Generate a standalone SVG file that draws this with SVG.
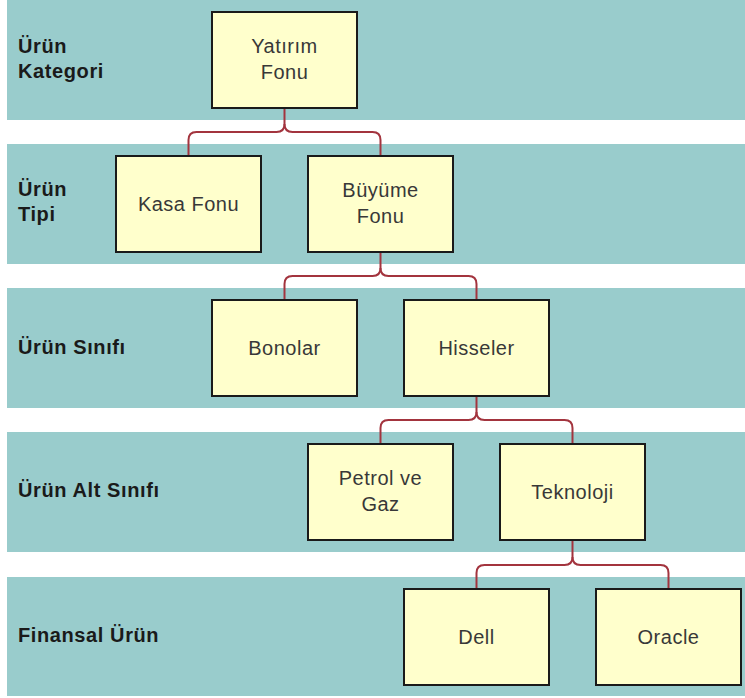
<svg xmlns="http://www.w3.org/2000/svg" width="745" height="698" viewBox="0 0 745 698">
<style>
.band{fill:#99CCCC}
.box{fill:#FFFFCC;stroke:#1a1a1a;stroke-width:2}
.t{font-family:"Liberation Sans",Arial,sans-serif;font-size:20px;letter-spacing:0.5px;fill:#383838;text-anchor:middle}
.lbl{font-family:"Liberation Sans",Arial,sans-serif;font-size:20px;letter-spacing:0.6px;font-weight:bold;fill:#1a1a1a}
.c{fill:none;stroke:#A3343E;stroke-width:2}
</style>
<rect width="745" height="698" fill="#ffffff"/>
<g id="bands">
<rect class="band" x="7" y="0" width="738" height="120"/>
<rect class="band" x="7" y="144" width="738" height="120"/>
<rect class="band" x="7" y="288" width="738" height="120"/>
<rect class="band" x="7" y="432" width="738" height="120"/>
<rect class="band" x="7" y="577" width="738" height="119"/>
</g>
<g id="labels">
<text class="lbl" x="18" y="53">Ürün</text>
<text class="lbl" x="18" y="78">Kategori</text>
<text class="lbl" x="18" y="196">Ürün</text>
<text class="lbl" x="18" y="221">Tipi</text>
<text class="lbl" x="18" y="354">Ürün Sınıfı</text>
<text class="lbl" x="18" y="497">Ürün Alt Sınıfı</text>
<text class="lbl" x="18" y="642">Finansal Ürün</text>
</g>
<g id="connectors">
<path class="c" d="M284.5 108V124Q284.5 132 276.5 132H196.5Q188.5 132 188.5 140V156"/>
<path class="c" d="M284.5 124Q284.5 132 292.5 132H372.5Q380.5 132 380.5 140V156"/>
<path class="c" d="M380.5 252V268Q380.5 276 372.5 276H292.5Q284.5 276 284.5 284V300"/>
<path class="c" d="M380.5 268Q380.5 276 388.5 276H468.5Q476.5 276 476.5 284V300"/>
<path class="c" d="M476.5 396V412Q476.5 420 468.5 420H388.5Q380.5 420 380.5 428V444"/>
<path class="c" d="M476.5 412Q476.5 420 484.5 420H564.5Q572.5 420 572.5 428V444"/>
<path class="c" d="M572.5 540V557Q572.5 565 564.5 565H484.5Q476.5 565 476.5 573V589"/>
<path class="c" d="M572.5 557Q572.5 565 580.5 565H660.5Q668.5 565 668.5 573V589"/>
</g>
<g id="yatirim-fonu">
<rect class="box" x="212" y="12" width="145" height="96"/>
<text class="t" x="284.5" y="53">Yatırım</text>
<text class="t" x="284.5" y="79">Fonu</text>
</g>
<g id="kasa-fonu">
<rect class="box" x="116" y="156" width="145" height="96"/>
<text class="t" x="188.5" y="211">Kasa Fonu</text>
</g>
<g id="buyume-fonu">
<rect class="box" x="308" y="156" width="145" height="96"/>
<text class="t" x="380.5" y="197">Büyüme</text>
<text class="t" x="380.5" y="223">Fonu</text>
</g>
<g id="bonolar">
<rect class="box" x="212" y="300" width="145" height="96"/>
<text class="t" x="284.5" y="355">Bonolar</text>
</g>
<g id="hisseler">
<rect class="box" x="404" y="300" width="145" height="96"/>
<text class="t" x="476.5" y="355">Hisseler</text>
</g>
<g id="petrol-ve-gaz">
<rect class="box" x="308" y="444" width="145" height="96"/>
<text class="t" x="380.5" y="485">Petrol ve</text>
<text class="t" x="380.5" y="511">Gaz</text>
</g>
<g id="teknoloji">
<rect class="box" x="500" y="444" width="145" height="96"/>
<text class="t" x="572.5" y="499">Teknoloji</text>
</g>
<g id="dell">
<rect class="box" x="404" y="589" width="145" height="96"/>
<text class="t" x="476.5" y="644">Dell</text>
</g>
<g id="oracle">
<rect class="box" x="596" y="589" width="145" height="96"/>
<text class="t" x="668.5" y="644">Oracle</text>
</g>
</svg>
